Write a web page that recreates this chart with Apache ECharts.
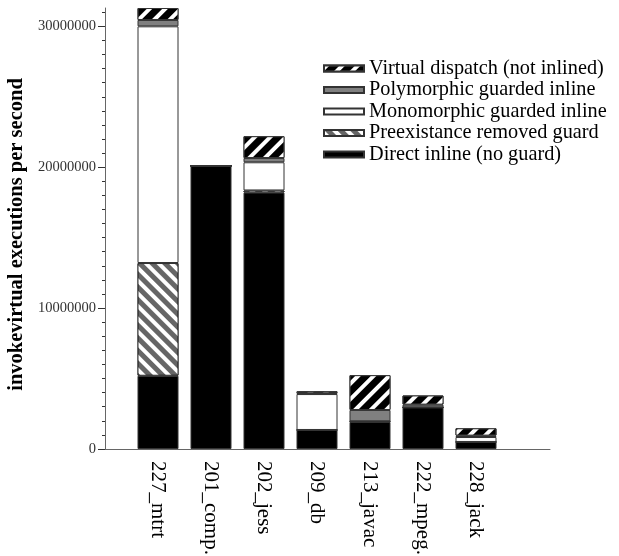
<!DOCTYPE html>
<html>
<head>
<meta charset="utf-8">
<script src="https://cdn.jsdelivr.net/npm/echarts@6/dist/echarts.min.js"></script>
<style>html,body{margin:0;padding:0;background:#fff}#c{width:619px;height:556px}</style>
</head>
<body>
<div id="c"></div>
<script>
const categories = ['227_mtrt', '201_comp.', '202_jess', '209_db', '213_javac', '222_mpeg.', '228_jack'];
const directInline = [5200000, 20100000, 18200000, 1350000, 1920000, 2950000, 500000];
const preexistance = [8000000, 0, 150000, 0, 50000, 0, 0];
const monomorphic = [16800000, 0, 2000000, 2550000, 0, 0, 350000];
const polymorphic = [450000, 0, 300000, 50000, 800000, 200000, 100000];
const virtualDispatch = [850000, 0, 1550000, 150000, 2470000, 650000, 520000];
const yTickLabels = [0, 10000000, 20000000, 30000000];
const seriesNames = ['Direct inline (no guard)', 'Preexistance removed guard', 'Monomorphic guarded inline', 'Polymorphic guarded inline', 'Virtual dispatch (not inlined)'];

const FONT = '"Liberation Serif", "DejaVu Serif", serif';
const Y_MAX = 31300000;
const minorTicks = [];
for (let v = 0; v <= 31000000; v += 1000000) minorTicks.push(v);

function mk(name, values, style) {
  return {
    name: name,
    type: 'bar',
    stack: 'all',
    barWidth: 41,
    xAxisIndex: 0,
    yAxisIndex: 0,
    data: values,
    itemStyle: Object.assign({ borderColor: '#333', borderWidth: 1 }, style)
  };
}

const chart = echarts.init(document.getElementById('c'), null, { renderer: 'canvas' });
chart.setOption({
  animation: false,
  backgroundColor: '#fff',
  grid: [
    { left: 131.5, right: 116.5, top: 8, bottom: 107, outerBoundsMode: 'none', containLabel: false },
    { left: 105, right: 69, top: 8, bottom: 107, outerBoundsMode: 'none', containLabel: false }
  ],
  legend: {
    orient: 'vertical',
    left: 318,
    top: 53.5,
    itemWidth: 40,
    itemHeight: 6,
    itemGap: 1.5,
    icon: 'rect',
    data: [seriesNames[4], seriesNames[3], seriesNames[2], seriesNames[1], seriesNames[0]],
    textStyle: { fontFamily: FONT, fontSize: 20.3, color: '#000', lineHeight: 20 }
  },
  xAxis: [{
    type: 'category',
    gridIndex: 0,
    data: categories,
    axisLine: { show: false },
    axisTick: { show: false },
    axisLabel: {
      interval: 0,
      rotate: -90,
      margin: 12,
      fontFamily: FONT,
      fontSize: 21,
      color: '#000'
    }
  }, {
    type: 'value',
    gridIndex: 1,
    min: 0,
    max: 1,
    splitLine: { show: false },
    axisLine: { show: true, lineStyle: { color: '#666', width: 1 } },
    axisTick: { show: false },
    axisLabel: { show: false }
  }],
  yAxis: [{
    type: 'value',
    gridIndex: 0,
    min: 0,
    max: Y_MAX,
    show: false,
    splitLine: { show: false }
  }, {
    type: 'value',
    gridIndex: 1,
    min: 0,
    max: Y_MAX,
    name: 'invokevirtual executions per second',
    nameLocation: 'middle',
    nameGap: 71,
    nameTextStyle: { fontFamily: FONT, fontSize: 20.5, fontWeight: 'bold', color: '#000', padding: [0, 12, 0, 0] },
    splitLine: { show: false },
    axisLine: { show: true, lineStyle: { color: '#666', width: 1 } },
    axisTick: { show: true, customValues: yTickLabels, length: 7, lineStyle: { color: '#333' } },
    axisLabel: { customValues: yTickLabels, formatter: v => String(v), margin: 9, fontFamily: FONT, fontSize: 14.5, color: '#333' }
  }, {
    type: 'value',
    gridIndex: 1,
    min: 0,
    max: Y_MAX,
    position: 'left',
    splitLine: { show: false },
    axisLine: { show: false },
    axisTick: { show: true, customValues: minorTicks, length: 3, lineStyle: { color: '#333' } },
    axisLabel: { show: false }
  }],
  series: [
    mk(seriesNames[0], directInline, { color: '#000' }),
    mk(seriesNames[1], preexistance, {
      color: '#666',
      decal: { symbol: 'rect', symbolSize: 1, dashArrayX: [1, 0], dashArrayY: [4, 4.5], rotation: Math.PI / 4, color: '#fff' }
    }),
    mk(seriesNames[2], monomorphic, { color: '#fff' }),
    mk(seriesNames[3], polymorphic, { color: '#808080' }),
    mk(seriesNames[4], virtualDispatch, {
      color: '#000',
      decal: { symbol: 'rect', symbolSize: 1, dashArrayX: [1, 0], dashArrayY: [4, 6.5], rotation: -Math.PI / 4, color: '#fff' }
    })
  ]
});
</script>
</body>
</html>
